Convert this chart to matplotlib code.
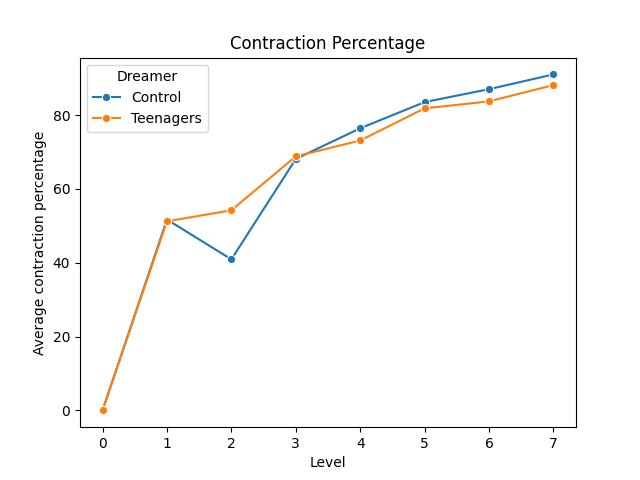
import pandas as pd
import seaborn as sns
import matplotlib
matplotlib.use('Agg')
import matplotlib.pyplot as plt

levels = [0, 1, 2, 3, 4, 5, 6, 7]
control = [0.0, 51.7, 40.9, 68.1, 76.4, 83.5, 87.0, 91.0]
teenagers = [0.0, 51.2, 54.2, 68.8, 73.1, 81.8, 83.7, 88.1]

df = pd.DataFrame({
    'Level': levels * 2,
    'Average contraction percentage': control + teenagers,
    'Dreamer': ['Control'] * len(levels) + ['Teenagers'] * len(levels),
})

fig, ax = plt.subplots(figsize=(6.4, 4.8), dpi=100)
sns.lineplot(data=df, x='Level', y='Average contraction percentage',
             hue='Dreamer', marker='o', ax=ax)
ax.set_title('Contraction Percentage')
fig.savefig('out.png')
